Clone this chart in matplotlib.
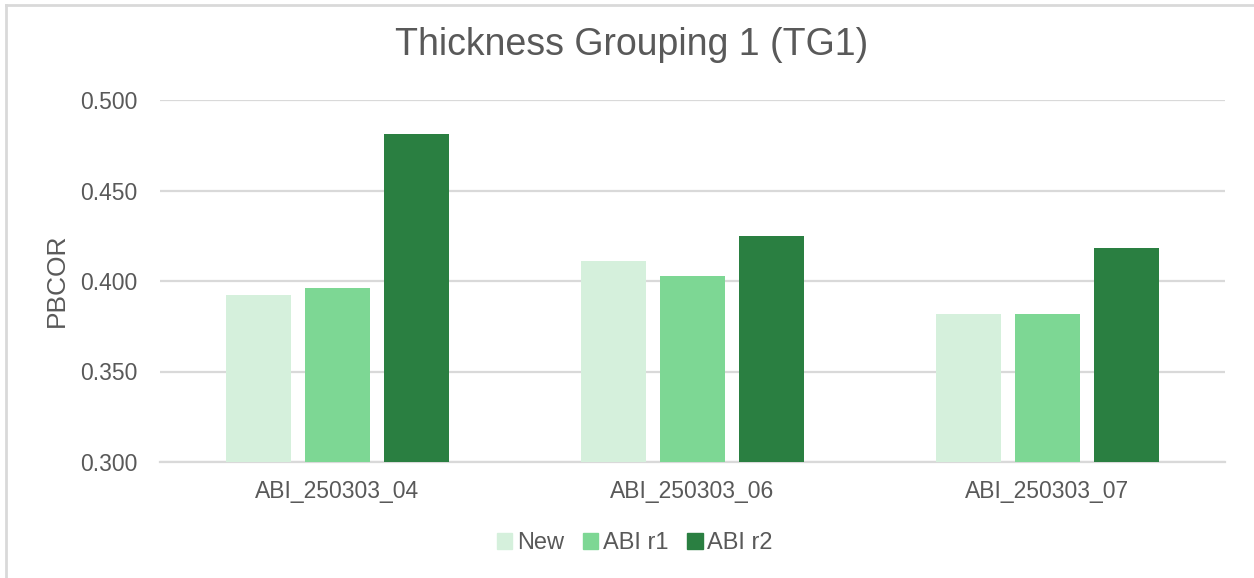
import numpy as np
from matplotlib import pyplot as plt
from matplotlib.lines import Line2D

plt.rcParams['font.family'] = ['Liberation Sans', 'DejaVu Sans']

categories = ['ABI_250303_04', 'ABI_250303_06', 'ABI_250303_07']
series_names = ['New', 'ABI r1', 'ABI r2']
new_vals = [0.392, 0.411, 0.382]
r1_vals = [0.396, 0.403, 0.3815]
r2_vals = [0.481, 0.425, 0.418]
yticks = [0.300, 0.350, 0.400, 0.450, 0.500]

colors = ['#D5F0DC', '#7DD794', '#2A7F41']
text_color = '#595959'

fig = plt.figure(figsize=(12.54, 5.78), dpi=100)
ax = fig.add_axes([160 / 1254, 1 - 462 / 578, 1065 / 1254, 362 / 578])

x = np.arange(len(categories))
width = 0.183
step = 0.2225
for i, (vals, name) in enumerate(zip([new_vals, r1_vals, r2_vals], series_names)):
    ax.bar(x + (i - 1) * step, vals, width, color=colors[i], label=name, zorder=3)

ax.set_xlim(-0.5, len(categories) - 0.5)
ax.set_ylim(0.300, 0.500)
ax.set_yticks(yticks)
ax.set_yticklabels([f'{v:.3f}' for v in yticks])
ax.set_xticks(x)
ax.set_xticklabels(categories)
ax.tick_params(axis='both', length=0, labelsize=16.5, labelcolor=text_color)
ax.tick_params(axis='y', pad=16)
ax.tick_params(axis='x', pad=13)
ax.grid(axis='y', color='#D9D9D9', linewidth=1.6, zorder=0)
for side in ['top', 'right', 'left']:
    ax.spines[side].set_visible(False)
ax.spines['bottom'].set_color('#D9D9D9')
ax.spines['bottom'].set_linewidth(1.6)

fig.text(57 / 1254, 1 - 280 / 578, 'PBCOR', rotation=90, ha='center', va='center',
         fontsize=19, color=text_color)
fig.text(632 / 1254, 1 - 45 / 578, 'Thickness Grouping 1 (TG1)', ha='center', va='center',
         fontsize=27, color=text_color)

handles = [plt.Rectangle((0, 0), 1, 1, color=c) for c in colors]
fig.legend(handles, series_names, loc='center', bbox_to_anchor=(635 / 1254, 1 - 543 / 578),
           ncol=3, frameon=False, fontsize=17, labelcolor=text_color,
           handlelength=0.65, handleheight=0.65, handletextpad=0.2, columnspacing=0.8)

# outer chart border (top and left edges visible)
fig.add_artist(Line2D([6 / 1254, 1], [1 - 5 / 578, 1 - 5 / 578], color='#D9D9D9', lw=2,
                      transform=fig.transFigure))
fig.add_artist(Line2D([6 / 1254, 6 / 1254], [0, 1 - 5 / 578], color='#D9D9D9', lw=2,
                      transform=fig.transFigure))

fig.savefig('out.png', dpi=100)
